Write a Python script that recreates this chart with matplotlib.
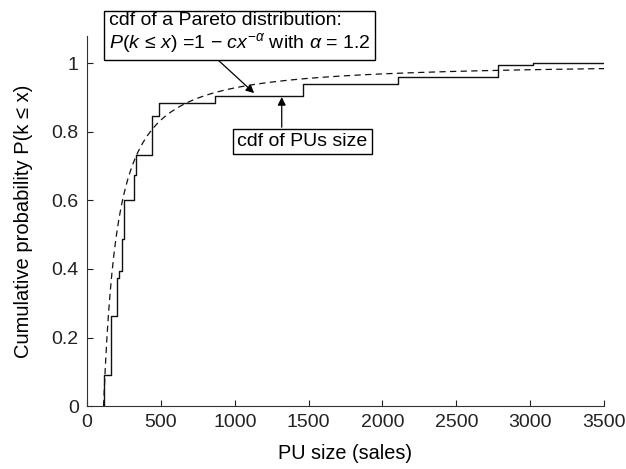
# cdf of PU size vs Pareto fit

import numpy as np
import matplotlib
matplotlib.use("Agg")
import matplotlib.pyplot as plt

plt.rcParams['font.family'] = ['Liberation Sans', 'DejaVu Sans']
plt.rcParams['mathtext.fontset'] = 'custom'
plt.rcParams['mathtext.rm'] = 'Liberation Sans'
plt.rcParams['mathtext.it'] = 'Liberation Sans:italic'
plt.rcParams['mathtext.sf'] = 'Liberation Sans'

# empirical cdf steps (x where the step happens, cdf after the step)
step_x = [115, 163, 205, 219, 237, 253, 318, 332, 438, 485, 869, 1465, 2108, 2785, 3020, 3490]
step_y = [0.09, 0.262, 0.374, 0.393, 0.487, 0.600, 0.675, 0.733, 0.846, 0.885, 0.903, 0.940, 0.958, 0.994, 1.0, 1.0]

# Pareto fit parameters
alpha = 1.2
x_min = 112
x_max = 3500

xticks = [0, 500, 1000, 1500, 2000, 2500, 3000, 3500]
yticks = [0, 0.2, 0.4, 0.6, 0.8, 1]
ytick_labels = ['0', '0.2', '0.4', '0.6', '0.8', '1']

fs = 14

fig = plt.figure(figsize=(6.26, 4.69), dpi=100)
ax = fig.add_axes([0.139, 0.134, 0.826, 0.79])

# step line, starting at zero
sx = [step_x[0]] + step_x
sy = [0] + step_y
ax.step(sx, sy, where='post', color='#111111', lw=1.0)

# Pareto curve
xp = np.linspace(x_min, x_max, 600)
yp = 1 - (x_min / xp) ** alpha
ax.plot(xp, yp, color='#111111', lw=0.9, linestyle=(0, (5, 3.5)))

ax.set_xlim(0, 3500)
ax.set_ylim(0, 1.08)
ax.set_xticks(xticks)
ax.set_yticks(yticks)
ax.set_yticklabels(ytick_labels)
ax.tick_params(direction='in', length=4, labelsize=fs, colors='#222222', pad=6)
for s in ['top', 'right']:
    ax.spines[s].set_visible(False)
for s in ['left', 'bottom']:
    ax.spines[s].set_color('#333333')

ax.set_xlabel('PU size (sales)', fontsize=14.3, labelpad=9)
ax.set_ylabel('Cumulative probability P(k \u2264 x)', fontsize=14.5, labelpad=13)

# annotation boxes
box = dict(boxstyle='square,pad=0.22', fc='white', ec='black', lw=1.0)
ax.text(1032, 1.086,
        'cdf of a Pareto distribution:\n$P(k\\,\\leq\\,x)$ =1 \u2212 $cx^{-\\alpha}$ with $\\alpha$ = 1.2',
        fontsize=fs, ha='center', va='center', multialignment='left', bbox=box,
        linespacing=1.15, zorder=5)
ax.text(1456, 0.771, 'cdf of PUs size', fontsize=fs, ha='center', va='center', bbox=box, zorder=5)

arrow = dict(arrowstyle='-|>', color='black', lw=0.9, shrinkA=0, shrinkB=0, mutation_scale=12)
ax.annotate('', xy=(1131, 0.9125), xytext=(887, 1.009), arrowprops=arrow)
ax.annotate('', xy=(1318, 0.901), xytext=(1318, 0.813), arrowprops=arrow)

fig.savefig('out.png', dpi=100)
